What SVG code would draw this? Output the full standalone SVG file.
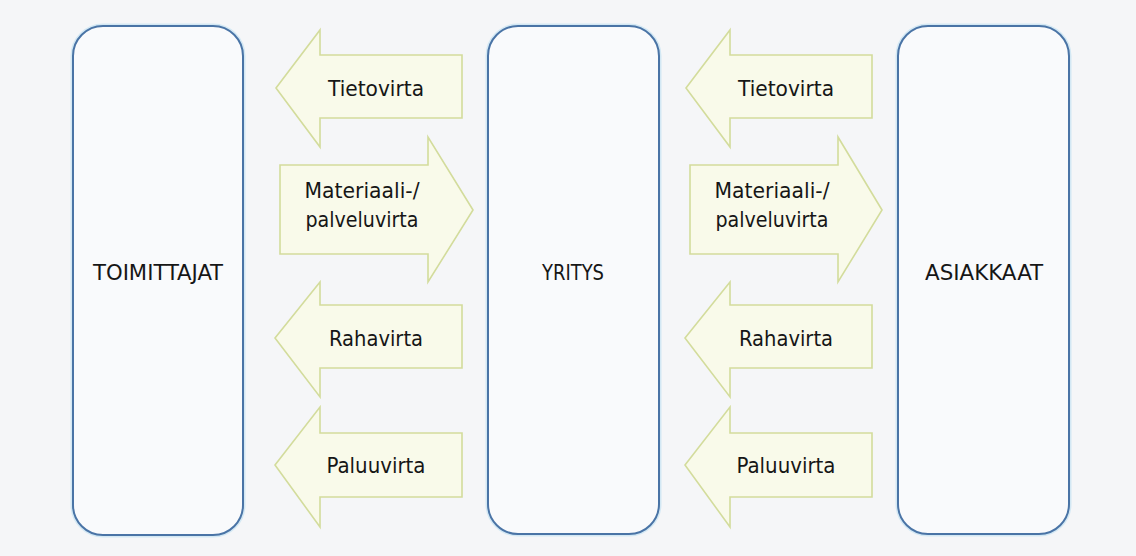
<svg xmlns="http://www.w3.org/2000/svg" width="1136" height="556" viewBox="0 0 1136 556">
<style>
.bg{fill:#f5f6f8}
.halo{fill:none;stroke:#d3e8f4;stroke-width:5}
.box{fill:#f9fafc;stroke:#4a74a6;stroke-width:2}
.arr{fill:#f9faea;stroke:#d3dc9c;stroke-width:1.6;stroke-linejoin:miter}
text{font-family:"DejaVu Sans Condensed","Liberation Sans Narrow","Open Sans",sans-serif;font-stretch:condensed;fill:#161616;text-anchor:middle}
.lbl{font-size:21px}
.big{font-size:21px}
</style>
<rect class="bg" x="0" y="0" width="1136" height="556"/>
<g id="toimittajat">
<rect class="halo" x="73" y="26" width="170" height="509" rx="30"/>
<rect class="box" x="73" y="26" width="170" height="509" rx="30"/>
<text class="big" x="158" y="280" textLength="130" lengthAdjust="spacingAndGlyphs">TOIMITTAJAT</text>
</g>
<g id="yritys">
<rect class="halo" x="488" y="26" width="171" height="508" rx="30"/>
<rect class="box" x="488" y="26" width="171" height="508" rx="30"/>
<text class="big" x="573" y="280" textLength="62" lengthAdjust="spacingAndGlyphs">YRITYS</text>
</g>
<g id="asiakkaat">
<rect class="halo" x="898" y="26" width="171" height="508" rx="30"/>
<rect class="box" x="898" y="26" width="171" height="508" rx="30"/>
<text class="big" x="984" y="280" textLength="118" lengthAdjust="spacingAndGlyphs">ASIAKKAAT</text>
</g>
<g id="connectors">
<g id="tieto1">
<path class="arr" d="M276,88 L320,30 L320,55 L462,55 L462,118 L320,118 L320,147 Z"/>
<text class="lbl" x="376" y="96" textLength="96" lengthAdjust="spacingAndGlyphs">Tietovirta</text>
</g>
<g id="materiaali1">
<path class="arr" d="M473,210 L428,137 L428,165 L280,165 L280,254 L428,254 L428,282 Z"/>
<text class="lbl" x="362" y="198" textLength="115" lengthAdjust="spacingAndGlyphs">Materiaali-/</text>
<text class="lbl" x="362" y="227" textLength="113" lengthAdjust="spacingAndGlyphs">palveluvirta</text>
</g>
<g id="raha1">
<path class="arr" d="M275,338 L320,282 L320,305 L462,305 L462,368 L320,368 L320,397 Z"/>
<text class="lbl" x="376" y="346" textLength="94" lengthAdjust="spacingAndGlyphs">Rahavirta</text>
</g>
<g id="paluu1">
<path class="arr" d="M275,465 L320,407 L320,433 L462,433 L462,497 L320,497 L320,527 Z"/>
<text class="lbl" x="376" y="473" textLength="99" lengthAdjust="spacingAndGlyphs">Paluuvirta</text>
</g>
<g id="tieto2" transform="translate(410,0)">
<path class="arr" d="M276,88 L320,30 L320,55 L462,55 L462,118 L320,118 L320,147 Z"/>
<text class="lbl" x="376" y="96" textLength="96" lengthAdjust="spacingAndGlyphs">Tietovirta</text>
</g>
<g id="materiaali2" transform="translate(410,0)">
<path class="arr" d="M472,210 L428,137 L428,165 L280,165 L280,254 L428,254 L428,282 Z"/>
<text class="lbl" x="362" y="198" textLength="115" lengthAdjust="spacingAndGlyphs">Materiaali-/</text>
<text class="lbl" x="362" y="227" textLength="113" lengthAdjust="spacingAndGlyphs">palveluvirta</text>
</g>
<g id="raha2" transform="translate(410,0)">
<path class="arr" d="M275,338 L320,282 L320,305 L462,305 L462,368 L320,368 L320,397 Z"/>
<text class="lbl" x="376" y="346" textLength="94" lengthAdjust="spacingAndGlyphs">Rahavirta</text>
</g>
<g id="paluu2" transform="translate(410,0)">
<path class="arr" d="M275,465 L320,407 L320,433 L462,433 L462,497 L320,497 L320,527 Z"/>
<text class="lbl" x="376" y="473" textLength="99" lengthAdjust="spacingAndGlyphs">Paluuvirta</text>
</g>
</g>
</svg>
